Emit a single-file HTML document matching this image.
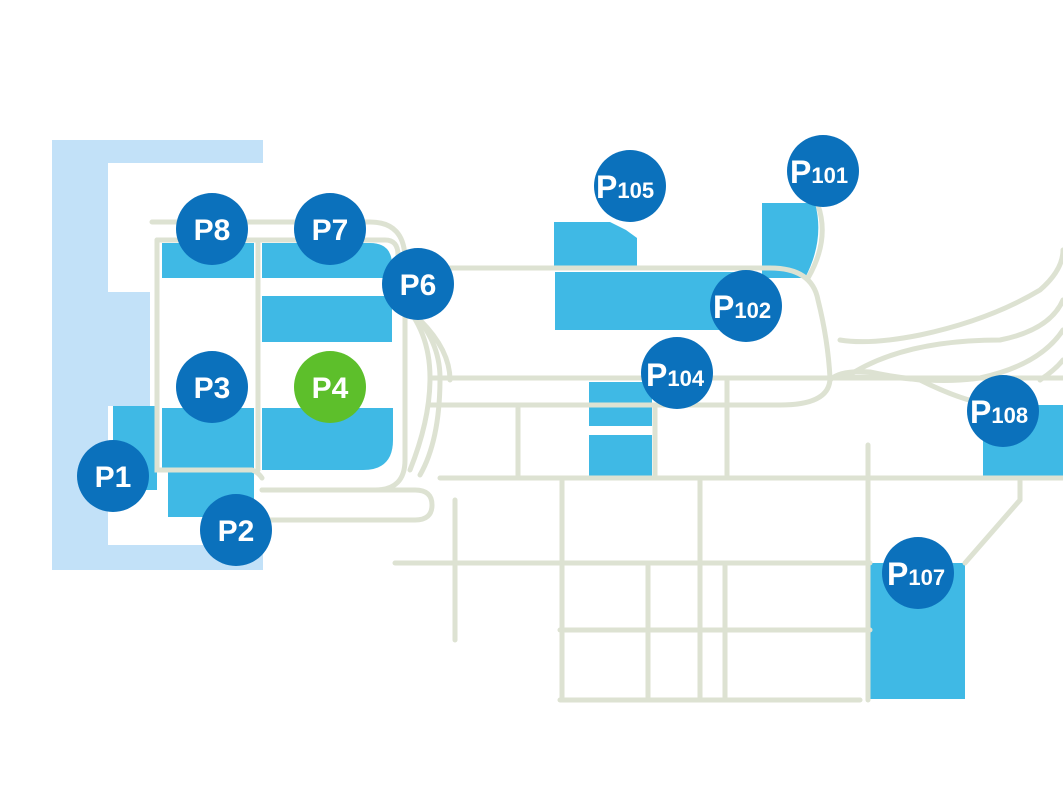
<!DOCTYPE html>
<html><head><meta charset="utf-8"><style>
html,body{margin:0;padding:0;background:#fff;}
svg{display:block;}
text{font-family:"Liberation Sans",sans-serif;font-weight:bold;fill:#fff;}
</style></head><body>
<svg width="1063" height="792" viewBox="0 0 1063 792" xmlns="http://www.w3.org/2000/svg">
<!-- terminal building -->
<rect x="52" y="140" width="211" height="430" fill="#c2e1f8"/>
<rect x="108" y="163" width="155" height="382" fill="#fff"/>
<rect x="108" y="292" width="42" height="114" fill="#c2e1f8"/>
<!-- lots -->
<g fill="#3fb9e5">
<rect x="113" y="406" width="44" height="84"/>
<rect x="168" y="470" width="86" height="47"/>
<rect x="162" y="243" width="92" height="35"/>
<path d="M262 243 H370 Q392 243 392 265 V278 H262Z"/>
<rect x="262" y="296" width="130" height="46"/>
<rect x="162" y="408" width="92" height="62"/>
<path d="M262 408 H393 V440 Q393 470 363 470 H262Z"/>
<path d="M554 222 H610 L626 230 L637 238 V268 H554Z"/>
<path d="M762 203 H815 Q825 240 805 278 H762Z"/>
<rect x="555" y="272" width="185" height="58"/>
<rect x="589" y="382" width="63" height="44"/>
<rect x="589" y="435" width="63" height="43"/>
<path d="M983 405 H1063 V477 H983Z"/>
<rect x="870" y="563" width="95" height="136"/>
</g>
<!-- roads -->
<g fill="none" stroke="#dde2d2" stroke-width="5" stroke-linecap="round">
<path d="M152 222 H370 Q405 222 405 260 V460 Q405 490 375 490 H262"/>
<path d="M157 240 V470 H252 Q258 472 262 478"/>
<path d="M258 240 V470"/>
<path d="M157 240 H385 Q398 240 398 255"/>
<path d="M262 490 H415 Q432 490 432 505 Q432 520 415 520 H262"/>
<path d="M405 268 H770 Q812 268 818 300 Q828 340 830 378"/>
<path d="M818 205 Q830 240 808 278"/>
<path d="M830 378 Q830 405 780 405 H430"/>
<path d="M430 378 H1063"/>
<path d="M440 478 H1063"/>
<path d="M395 563 H870"/>
<path d="M560 630 H870"/>
<path d="M560 700 H860"/>
<path d="M518 408 V477"/>
<path d="M562 478 V700"/>
<path d="M648 563 V700"/>
<path d="M700 478 V700"/>
<path d="M725 563 V700"/>
<path d="M727 380 V478"/>
<path d="M868 445 V700"/>
<path d="M455 500 V640"/>
<path d="M655 408 V478"/>
<path d="M1020 478 V500 L965 563"/>
<path d="M840 340 Q870 345 920 335 Q990 320 1040 290 Q1063 270 1063 250"/>
<path d="M845 378 Q900 340 1000 340 Q1050 330 1063 300"/>
<path d="M845 378 Q880 375 920 380 Q960 400 990 405"/>
<path d="M830 380 Q840 370 870 372 Q930 385 980 378 Q1040 365 1063 330"/>
<path d="M1040 380 Q1055 370 1063 360"/>
<path d="M400 300 Q430 330 430 378 Q430 420 410 470"/>
<path d="M410 310 Q440 340 440 378 Q440 440 420 475"/>
<path d="M420 320 Q450 350 450 380"/>
</g>
<!-- markers -->
<g fill="#0b71bc">
<circle cx="212" cy="229" r="36"/>
<circle cx="330" cy="229" r="36"/>
<circle cx="418" cy="284" r="36"/>
<circle cx="212" cy="387" r="36"/>
<circle cx="113" cy="476" r="36"/>
<circle cx="236" cy="530" r="36"/>
<circle cx="630" cy="186" r="36"/>
<circle cx="823" cy="171" r="36"/>
<circle cx="746" cy="306" r="36"/>
<circle cx="677" cy="373" r="36"/>
<circle cx="1003" cy="411" r="36"/>
<circle cx="918" cy="573" r="36"/>
</g>
<circle cx="330" cy="387" r="36" fill="#5dbf2b"/>
<g font-size="30" text-anchor="middle">
<text x="212" y="240">P8</text>
<text x="330" y="240">P7</text>
<text x="418" y="295">P6</text>
<text x="212" y="398">P3</text>
<text x="330" y="398">P4</text>
<text x="113" y="487">P1</text>
<text x="236" y="541">P2</text>
</g>
<g font-size="32">
<text x="596" y="198">P<tspan font-size="22">105</tspan></text>
<text x="790" y="183">P<tspan font-size="22">101</tspan></text>
<text x="713" y="318">P<tspan font-size="22">102</tspan></text>
<text x="646" y="386">P<tspan font-size="22">104</tspan></text>
<text x="970" y="423">P<tspan font-size="22">108</tspan></text>
<text x="887" y="585">P<tspan font-size="22">107</tspan></text>
</g>
</svg>
</body></html>
